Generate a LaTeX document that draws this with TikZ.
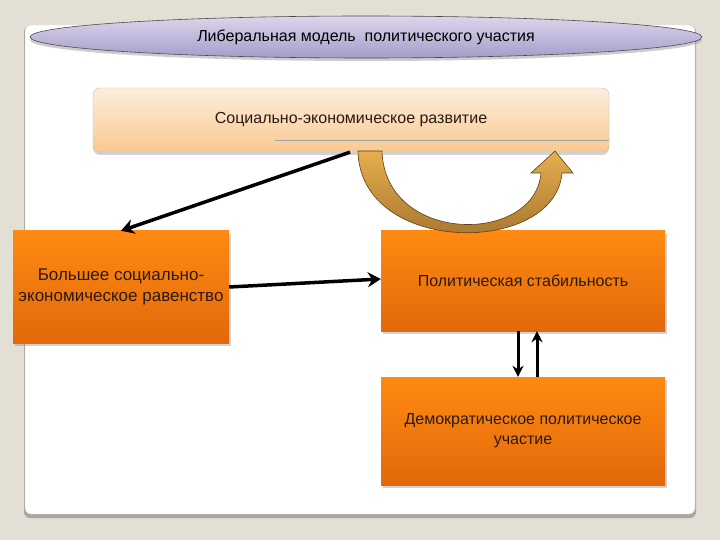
\documentclass[tikz,border=0pt]{standalone}
\usepackage{fontspec}
\setmainfont{Liberation Sans}
\usetikzlibrary{arrows.meta,shadows,shapes.geometric}
\definecolor{bg}{HTML}{E3DFD5}
\definecolor{orangetop}{HTML}{FF8A12}
\definecolor{orangebot}{HTML}{E2680A}
\definecolor{peachtop}{HTML}{FDEEDD}
\definecolor{peachbot}{HTML}{F8C992}
\definecolor{lavtop}{HTML}{DCD5EC}
\definecolor{lavbot}{HTML}{A69DC9}
\definecolor{goldlight}{HTML}{E6AE4E}
\definecolor{golddark}{HTML}{9A6A2A}
\definecolor{txt}{HTML}{2A1A10}
\tikzset{
  obox/.style={rectangle, top color=orangetop, bottom color=orangebot, draw=none,
    text=txt, align=center, font=\fontsize{16}{20}\selectfont,
    drop shadow={shadow xshift=1.5pt, shadow yshift=-2.5pt, opacity=0.35}},
  blackarrow/.style={draw=black, line width=3.5pt, -{Stealth[length=13pt,width=15pt]}},
  thinarrow/.style={draw=black, line width=3pt, -{Stealth[length=11pt,width=11pt]}}
}
\begin{document}
\begin{tikzpicture}[x=1pt,y=-1pt]
\useasboundingbox (0,0) rectangle (720,540);
\fill[bg] (0,0) rectangle (720,540);
% panel
\fill[gray!60!bg, rounded corners=6pt] (24,26) rectangle (696,518);
\fill[white, rounded corners=6pt] (25,25) rectangle (695,514);
\draw[gray!40, rounded corners=6pt] (25,25) rectangle (695,514);
% title ellipse
\node[ellipse, minimum width=672pt, minimum height=42pt, top color=lavtop, bottom color=lavbot,
  draw=black!70, line width=0.6pt, font=\fontsize{16}{18}\selectfont, text=black,
  drop shadow={shadow xshift=0pt, shadow yshift=-3pt, opacity=0.4}]
  (title) at (366,37) {Либеральная модель\ \ политического участия};
% top box
\node[rectangle, rounded corners=7pt, minimum width=516pt, minimum height=64pt,
  top color=peachtop, bottom color=peachbot, draw=black!25,
  font=\fontsize{16}{18}\selectfont, text=txt,
  drop shadow={shadow xshift=0pt, shadow yshift=-3pt, opacity=0.35}]
  (soc) at (351,120) {Социально-экономическое развитие};
\draw[black!35, line width=0.6pt] (275,140) -- (609,140);
% orange boxes
\node[obox, minimum width=216pt, minimum height=112pt, font=\fontsize{17}{21}\selectfont] (eq) at (121,287)
  {Большее социально-\\экономическое равенство};
\node[obox, minimum width=284pt, minimum height=100pt] (pol) at (523,281)
  {Политическая стабильность};
\node[obox, minimum width=284pt, minimum height=108pt] (dem) at (523,431)
  {Демократическое политическое\\участие};
% curved arrow
\shade[top color=goldlight, bottom color=golddark, draw=golddark!60!black, line width=0.6pt]
  (358,151) .. controls (360,256) and (555,256) .. (562,173)
  -- (573,173) -- (555,151) -- (531,173) -- (541,173)
  .. controls (535,245) and (385,245) .. (382,151) -- cycle;
% arrows
\draw[blackarrow] ([xshift=-1pt]soc.south) -- (eq.north);
\draw[blackarrow] ([yshift=0pt]eq.east) -- ([yshift=2pt]pol.west);
\draw[thinarrow] ([xshift=-5pt]pol.south) -- ([xshift=-5pt]dem.north);
\draw[thinarrow] ([xshift=14pt]dem.north) -- ([xshift=14pt]pol.south);
\end{tikzpicture}
\end{document}
